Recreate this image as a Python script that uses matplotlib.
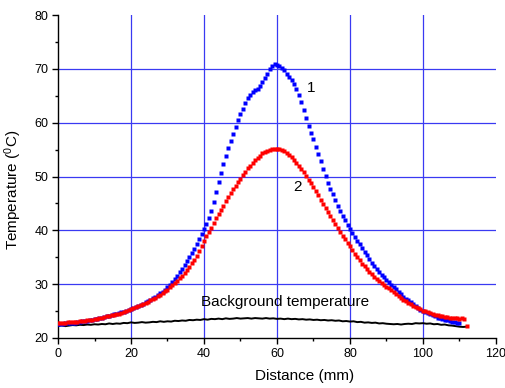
import numpy as np
import matplotlib
matplotlib.use("Agg")
import matplotlib.pyplot as plt
from matplotlib.ticker import MultipleLocator

plt.rcParams['font.family'] = ['Liberation Sans', 'DejaVu Sans']
plt.rcParams['mathtext.fontset'] = 'custom'
plt.rcParams['mathtext.rm'] = 'Liberation Sans'
plt.rcParams['mathtext.it'] = 'Liberation Sans'

# sampling step of the measured profiles (mm)
step = 2 / 3

# curve 1 (blue)
temp_1 = [
    22.60, 22.63, 22.67, 22.70, 22.73, 22.77, 22.80, 22.87, 22.93, 23.00,
    23.07, 23.13, 23.20, 23.30, 23.40, 23.50, 23.60, 23.70, 23.80, 23.90,
    24.00, 24.10, 24.23, 24.37, 24.50, 24.63, 24.77, 24.90, 25.03, 25.17,
    25.30, 25.50, 25.70, 25.90, 26.10, 26.33, 26.60, 26.87, 27.13, 27.40,
    27.67, 27.97, 28.30, 28.63, 29.00, 29.40, 29.93, 30.47, 31.00, 31.60,
    32.23, 32.90, 33.57, 34.27, 35.00, 35.80, 36.60, 37.40, 38.33, 39.27,
    40.30, 41.23, 42.33, 43.60, 45.27, 47.03, 48.90, 50.70, 52.37, 53.90,
    55.23, 56.57, 57.90, 59.23, 60.47, 61.60, 62.60, 63.60, 64.60, 65.20,
    65.67, 66.00, 66.33, 66.83, 67.50, 68.30, 69.10, 69.90, 70.50, 70.85,
    70.80, 70.53, 70.20, 69.80, 69.13, 68.53, 68.00, 67.13, 66.17, 65.10,
    63.77, 62.33, 60.80, 59.40, 58.10, 56.90, 55.57, 54.20, 52.80, 51.47,
    50.13, 48.80, 47.73, 46.67, 45.60, 44.60, 43.63, 42.70, 41.83, 41.03,
    40.30, 39.57, 38.83, 38.10, 37.37, 36.67, 36.00, 35.33, 34.67, 34.00,
    33.33, 32.73, 32.20, 31.73, 31.27, 30.80, 30.33, 29.90, 29.50, 29.03,
    28.57, 28.10, 27.70, 27.33, 27.00, 26.60, 26.23, 25.90, 25.57, 25.27,
    25.00, 24.80, 24.60, 24.40, 24.20, 24.00, 23.80, 23.67, 23.53, 23.40,
    23.27, 23.13, 23.00, 22.90, 22.80, 22.70,
]

# curve 2 (red)
temp_2 = [
    22.80, 22.81, 22.83, 22.85, 22.88, 22.92, 22.95, 22.98, 23.03, 23.10,
    23.17, 23.23, 23.30, 23.37, 23.43, 23.50, 23.60, 23.70, 23.80, 23.90,
    24.00, 24.10, 24.20, 24.30, 24.40, 24.53, 24.67, 24.80, 24.97, 25.13,
    25.30, 25.50, 25.70, 25.90, 26.10, 26.30, 26.50, 26.73, 26.97, 27.20,
    27.47, 27.73, 28.00, 28.33, 28.67, 29.00, 29.40, 29.80, 30.20, 30.67,
    31.13, 31.60, 32.13, 32.67, 33.20, 33.87, 34.57, 35.30, 36.17, 37.07,
    38.00, 38.87, 39.70, 40.50, 41.37, 42.20, 43.00, 43.80, 44.60, 45.40,
    46.13, 46.87, 47.60, 48.27, 48.93, 49.60, 50.27, 50.90, 51.50, 52.03,
    52.57, 53.10, 53.50, 53.90, 54.30, 54.57, 54.80, 55.00, 55.13, 55.20,
    55.20, 55.07, 54.90, 54.70, 54.37, 54.00, 53.60, 53.07, 52.53, 52.00,
    51.40, 50.77, 50.10, 49.43, 48.73, 48.00, 47.27, 46.50, 45.70, 44.90,
    44.13, 43.40, 42.60, 41.83, 41.10, 40.37, 39.67, 39.00, 38.33, 37.67,
    37.00, 36.33, 35.67, 35.00, 34.40, 33.83, 33.30, 32.77, 32.27, 31.80,
    31.33, 30.95, 30.60, 30.25, 29.90, 29.55, 29.20, 28.85, 28.50, 28.15,
    27.80, 27.45, 27.10, 26.80, 26.50, 26.23, 25.97, 25.70, 25.50, 25.30,
    25.10, 24.93, 24.77, 24.60, 24.47, 24.33, 24.20, 24.10, 24.00, 23.90,
    23.83, 23.77, 23.70, 23.67, 23.63, 23.60, 23.75, 23.55, 22.30,
]

# background temperature (black), 1 mm step
temp_bg = [
    22.25, 22.35, 22.20, 22.30, 22.40, 22.35, 22.45, 22.40, 22.50, 22.45,
    22.55, 22.50, 22.60, 22.55, 22.70, 22.60, 22.70, 22.65, 22.80, 22.75,
    22.90, 22.80, 22.85, 22.95, 22.85, 22.90, 23.00, 22.95, 23.10, 23.00,
    23.10, 23.05, 23.20, 23.15, 23.25, 23.20, 23.35, 23.30, 23.40, 23.35,
    23.50, 23.40, 23.55, 23.50, 23.60, 23.50, 23.65, 23.55, 23.60, 23.70,
    23.60, 23.65, 23.70, 23.60, 23.70, 23.65, 23.60, 23.70, 23.60, 23.65,
    23.55, 23.60, 23.50, 23.60, 23.50, 23.55, 23.45, 23.50, 23.40, 23.45,
    23.35, 23.40, 23.30, 23.35, 23.25, 23.30, 23.20, 23.25, 23.10, 23.15,
    23.05, 23.10, 22.95, 23.00, 22.85, 22.90, 22.80, 22.85, 22.70, 22.75,
    22.65, 22.60, 22.55, 22.60, 22.50, 22.60, 22.65, 22.60, 22.75, 22.70,
    22.75, 22.65, 22.70, 22.55, 22.60, 22.45, 22.50, 22.35, 22.30, 22.20,
    22.10, 22.05, 22.10,
]

x_1 = np.arange(len(temp_1)) * step
x_2 = np.arange(len(temp_2)) * step
x_bg = np.arange(len(temp_bg)) * 1.0

x_ticks = [0, 20, 40, 60, 80, 100, 120]
y_ticks = [20, 30, 40, 50, 60, 70, 80]

fig = plt.figure(figsize=(5.05, 3.88), dpi=100)
ax = fig.add_axes([0.1149, 0.1289, 0.8671, 0.8324])

grid_c = '#3a3af2'
for gx in [20, 40, 60, 80, 100]:
    ax.axvline(gx, color=grid_c, lw=0.9, zorder=1)
for gy in [30, 40, 50, 60, 70]:
    ax.axhline(gy, color=grid_c, lw=0.9, zorder=1)

ax.plot(x_bg, temp_bg, color='black', lw=1.4, zorder=2)
ax.plot(x_1, temp_1, ls='none', marker='s', ms=3.3, mec='none', mfc='#0000ff', zorder=3)
ax.plot(x_2, temp_2, ls='none', marker='s', ms=3.5, mec='none', mfc='#ff0000', zorder=4)

ax.text(69.3, 66.5, '1', fontsize=11, ha='center', va='center', zorder=5)
ax.text(65.5, 48.1, '2', fontsize=11, ha='center', va='center', zorder=5)
ax.text(39.2, 26.6, 'Background temperature', fontsize=11, ha='left', va='center', zorder=5)

ax.set_xlim(0, 120)
ax.set_ylim(20, 80)
ax.set_xticks(x_ticks)
ax.set_yticks(y_ticks)
ax.xaxis.set_minor_locator(MultipleLocator(10))
ax.yaxis.set_minor_locator(MultipleLocator(5))
ax.tick_params(which='major', direction='out', length=4, width=1, labelsize=9, pad=3)
ax.tick_params(which='minor', direction='out', length=2.5, width=1)

for s in ['top', 'right']:
    ax.spines[s].set_visible(False)
for s in ['left', 'bottom']:
    ax.spines[s].set_linewidth(1.0)

ax.set_xlabel('Distance (mm)', fontsize=11, labelpad=8)
ax.xaxis.set_label_coords(0.564, -0.095)
ax.set_ylabel(r'Temperature ($^0$C)', fontsize=11)
ax.yaxis.set_label_coords(-0.078, 0.46)

fig.savefig('out.png', dpi=100)
